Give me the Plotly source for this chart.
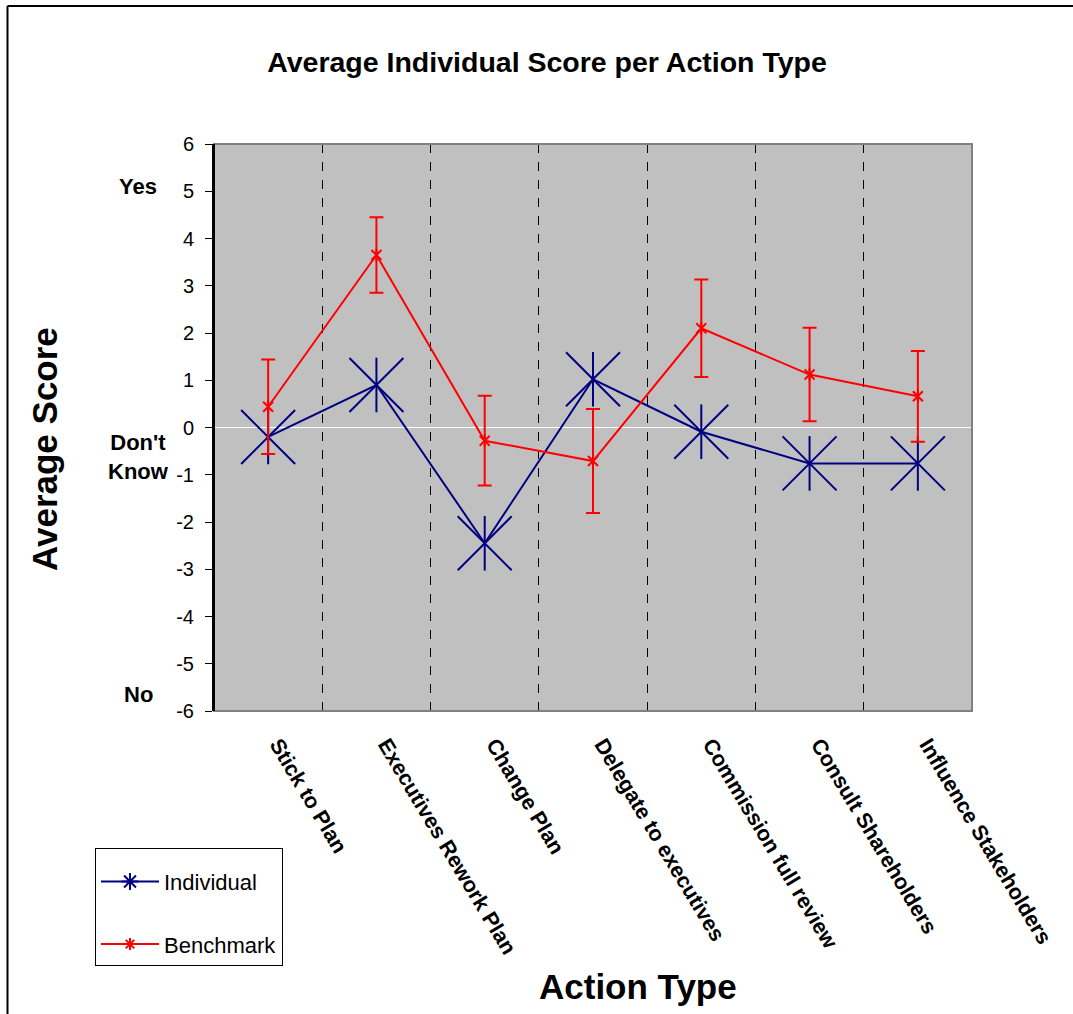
import plotly.graph_objects as go

categories = ["Stick to Plan", "Executives Rework Plan", "Change Plan", "Delegate to executives",
              "Commission full review", "Consult Shareholders", "Influence Stakeholders"]
individual = [-0.20, 0.90, -2.45, 1.02, -0.09, -0.76, -0.76]
benchmark = [0.44, 3.65, -0.28, -0.71, 2.10, 1.12, 0.66]
benchmark_err = [1.00, 0.80, 0.95, 1.10, 1.03, 0.99, 0.96]
y_ticks = [-6, -5, -4, -3, -2, -1, 0, 1, 2, 3, 4, 5, 6]
y_ticktext = [str(v) for v in y_ticks]

NAVY = "#000080"
RED = "#FF0000"
FONT = "Liberation Sans, Arial, sans-serif"

fig = go.Figure()

# Individual: line + diagonal cross
fig.add_trace(go.Scatter(
    x=categories, y=individual, mode="lines+markers", name="Individual",
    line=dict(color=NAVY, width=2),
    marker=dict(symbol="x-thin-open", size=54, line=dict(color=NAVY, width=2), color=NAVY),
    showlegend=False, hoverinfo="skip"))
# Individual: vertical arm of the star
fig.add_trace(go.Scatter(
    x=categories, y=individual, mode="markers",
    marker=dict(symbol="line-ns-open", size=39, line=dict(color=NAVY, width=2), color=NAVY),
    showlegend=False, hoverinfo="skip"))

# Benchmark with error bars
fig.add_trace(go.Scatter(
    x=categories, y=benchmark, mode="lines+markers", name="Benchmark",
    line=dict(color=RED, width=2),
    marker=dict(symbol="x-thin-open", size=10, line=dict(color=RED, width=2), color=RED),
    error_y=dict(type="data", array=benchmark_err, visible=True, color=RED, thickness=2, width=7),
    showlegend=False, hoverinfo="skip"))
fig.add_trace(go.Scatter(
    x=categories, y=benchmark, mode="markers",
    marker=dict(symbol="line-ns-open", size=9, line=dict(color=RED, width=2), color=RED),
    showlegend=False, hoverinfo="skip"))

# Legend entries
fig.add_trace(go.Scatter(
    x=[None], y=[None], mode="lines+markers", name="Individual", legendgroup="a",
    line=dict(color=NAVY, width=2),
    marker=dict(symbol="asterisk-open", size=14, line=dict(color=NAVY, width=2), color=NAVY)))
fig.add_trace(go.Scatter(
    x=[None], y=[None], mode="lines+markers", name="Benchmark", legendgroup="b",
    line=dict(color=RED, width=2),
    marker=dict(symbol="asterisk-open", size=10, line=dict(color=RED, width=2), color=RED)))

L, R, T, B = 214, 101, 144, 303
W, H = 1073, 1014
pw, ph = W - L - R, H - T - B

def px_x(p):
    return (p - L) / pw

def px_y(p):
    return (H - B - p) / ph

fig.update_layout(
    width=W, height=H,
    margin=dict(l=L, r=R, t=T, b=B, autoexpand=False),
    paper_bgcolor="white", plot_bgcolor="#C0C0C0",
    font=dict(family=FONT, color="black"),
    title=dict(text="<b>Average Individual Score per Action Type</b>", font=dict(size=28.5, family=FONT),
               x=547 / W, xanchor="center", xref="container",
               y=1 - 62 / H, yanchor="middle", yref="container"),
    legend=dict(x=px_x(95), y=px_y(848), xanchor="left", yanchor="top",
                bordercolor="black", borderwidth=1, bgcolor="white",
                font=dict(size=22, family=FONT), tracegroupgap=31,
                itemwidth=58,
                title=dict(text=" ", font=dict(size=9))),
    xaxis=dict(
        type="category", range=[-0.5, len(categories) - 0.5],
        tickson="boundaries", showgrid=True, griddash="dash",
        gridcolor="black", gridwidth=1, ticks="", tickangle=59,
        tickfont=dict(size=21.5, family=FONT, weight="bold"),
        ticklabelstandoff=16, ticklabelshift=10,
        showline=False, zeroline=False),
    yaxis=dict(
        range=[-6, 6], tickvals=y_ticks, ticktext=y_ticktext, ticks="outside", ticklen=7,
        tickcolor="black", ticklabelstandoff=7,
        tickfont=dict(size=20, family=FONT),
        showgrid=False, zeroline=True, zerolinecolor="white", zerolinewidth=1,
        showline=True, linecolor="black", linewidth=2),
)

# axis titles placed as in the original (offset from the plot centre)
fig.add_annotation(text="<b>Action Type</b>", xref="paper", yref="paper",
                   x=px_x(638), y=px_y(986), xanchor="center", yanchor="middle",
                   showarrow=False, font=dict(size=35, family=FONT))
fig.add_annotation(text="<b>Average Score</b>", xref="paper", yref="paper",
                   x=px_x(44), y=px_y(449), xanchor="center", yanchor="middle", textangle=-90,
                   showarrow=False, font=dict(size=35, family=FONT))

# plot-area border (grey) and outer frame lines
fig.add_shape(type="rect", xref="paper", yref="paper", x0=0, x1=1, y0=0, y1=1,
              line=dict(color="#808080", width=2), layer="above")
fig.add_shape(type="line", xref="paper", yref="paper", x0=0, x1=0, y0=0, y1=1,
              line=dict(color="black", width=2), layer="above")
fig.add_shape(type="line", xref="paper", yref="paper", x0=px_x(7.5), x1=px_x(W + 5),
              y0=px_y(6), y1=px_y(6), line=dict(color="black", width=2))
fig.add_shape(type="line", xref="paper", yref="paper", x0=px_x(7.5), x1=px_x(7.5),
              y0=px_y(6), y1=px_y(H + 5), line=dict(color="black", width=2))

# Yes / Don't Know / No labels
for txt, yv in [("Yes", 5.1), ("Don't<br>Know", -0.63), ("No", -5.65)]:
    fig.add_annotation(text="<b>" + txt + "</b>", xref="paper", yref="y", x=px_x(138), y=yv,
                       xanchor="center", yanchor="middle", showarrow=False, align="center",
                       font=dict(size=22, family=FONT))

fig.write_html("out.html", config={"displayModeBar": False},
               post_script="document.body.style.margin='0';")
